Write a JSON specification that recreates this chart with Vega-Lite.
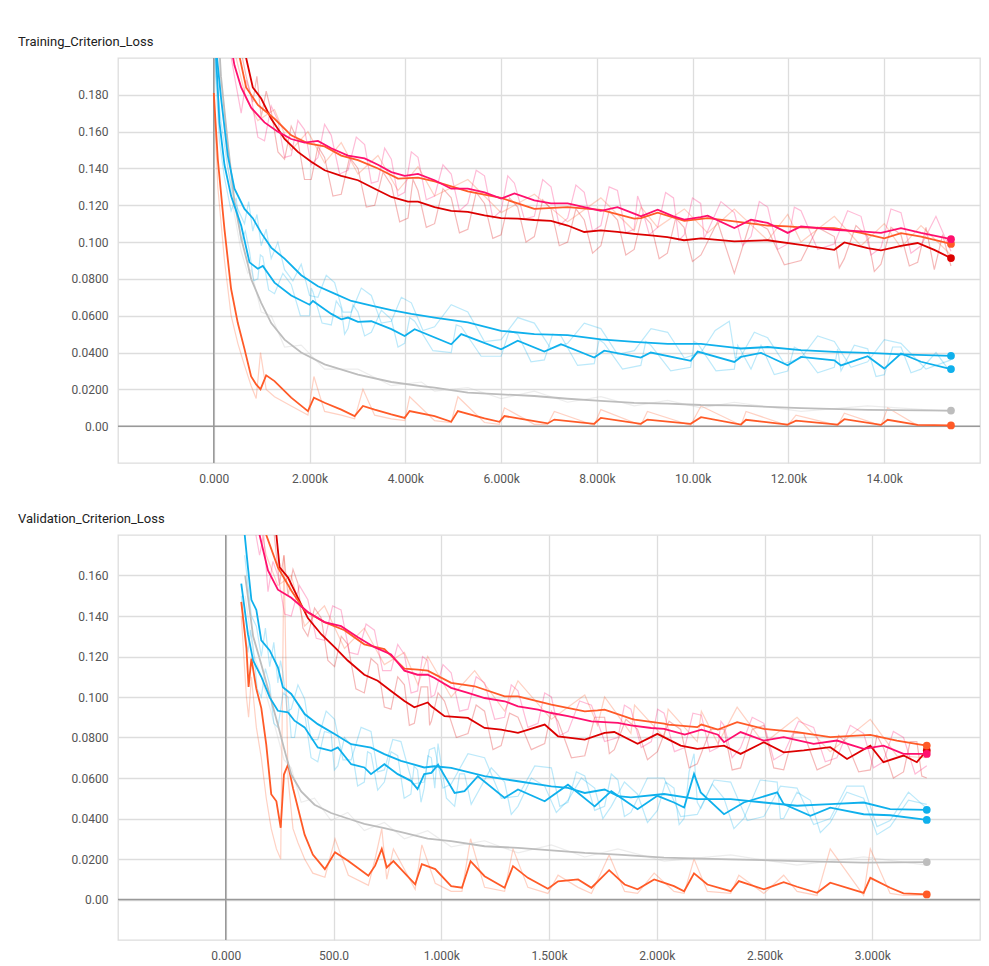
{
"$schema": "https://vega.github.io/schema/vega-lite/v6.json",
"padding": {"left": 17, "top": 35, "right": 5, "bottom": 0},
"config": {
  "view": {"stroke": "#dddddd", "strokeWidth": 1.3},
  "font": "Roboto",
  "axis": {"labelFont": "Roboto", "labelFontSize": 12, "labelColor": "#555555", "grid": true, "gridColor": "#dddddd", "gridWidth": 1.3, "domain": false, "ticks": false, "title": null, "labelPadding": 10, "labelOverlap": false, "labelSeparation": 0},
  "title": {"font": "Roboto", "fontSize": 13, "fontWeight": "normal", "color": "#212121", "anchor": "start", "frame": "group", "dx": -100, "offset": 8}
},
"spacing": 27,
"datasets": {
"train": [
{"s":"g","x":0,"y":0.181,"r":0.18},{"s":"g","x":84,"y":0.145,"r":0.13},{"s":"g","x":223,"y":0.107,"r":0.09},{"s":"g","x":362,"y":0.0745,"r":0.06},{"s":"g","x":502,"y":0.056,"r":0.045},{"s":"g","x":641,"y":0.042,"r":0.033},{"s":"g","x":780,"y":0.027,"r":0.022},{"s":"g","x":885,"y":0.0227,"r":0.015},{"s":"g","x":976,"y":0.02,"r":0.04},{"s":"g","x":1094,"y":0.0276,"r":0.02},{"s":"g","x":1268,"y":0.0245,"r":0.016},{"s":"g","x":1617,"y":0.0155,"r":0.011},{"s":"g","x":1966,"y":0.0082,"r":0.006},{"s":"g","x":2091,"y":0.0155,"r":0.027},{"s":"g","x":2314,"y":0.0127,"r":0.008},{"s":"g","x":2662,"y":0.009,"r":0.006},{"s":"g","x":2941,"y":0.0055,"r":0.004},{"s":"g","x":3115,"y":0.011,"r":0.02},{"s":"g","x":3359,"y":0.009,"r":0.006},{"s":"g","x":3707,"y":0.0064,"r":0.004},{"s":"g","x":3986,"y":0.0045,"r":0.003},{"s":"g","x":4090,"y":0.0082,"r":0.016},{"s":"g","x":4611,"y":0.0055,"r":0.003},{"s":"g","x":4958,"y":0.0024,"r":0.002},{"s":"g","x":5097,"y":0.0082,"r":0.016},{"s":"g","x":5653,"y":0.0042,"r":0.002},{"s":"g","x":5965,"y":0.0024,"r":0.001},{"s":"g","x":6069,"y":0.0055,"r":0.01},{"s":"g","x":6694,"y":0.0027,"r":0.001},{"s":"g","x":6972,"y":0.0015,"r":0.001},{"s":"g","x":7111,"y":0.0036,"r":0.008},{"s":"g","x":7944,"y":0.0013,"r":0.0005},{"s":"g","x":8083,"y":0.0045,"r":0.009},{"s":"g","x":8917,"y":0.0013,"r":0.0005},{"s":"g","x":9055,"y":0.0036,"r":0.008},{"s":"g","x":9958,"y":0.0013,"r":0.0005},{"s":"g","x":10174,"y":0.0049,"r":0.011},{"s":"g","x":11009,"y":0.0009,"r":0.0005},{"s":"g","x":11114,"y":0.0035,"r":0.008},{"s":"g","x":11984,"y":0.0009,"r":0.0004},{"s":"g","x":12158,"y":0.003,"r":0.006},{"s":"g","x":13028,"y":0.0009,"r":0.0004},{"s":"g","x":13167,"y":0.0038,"r":0.007},{"s":"g","x":13932,"y":0.0007,"r":0.0003},{"s":"g","x":14072,"y":0.0035,"r":0.01},{"s":"g","x":14698,"y":0.0007,"r":0.0003},{"s":"g","x":15394,"y":0.0004,"r":0.0003},
{"s":"f","x":0,"y":0.26,"r":0.25},{"s":"f","x":150,"y":0.19,"r":0.18},{"s":"f","x":300,"y":0.152,"r":0.14},{"s":"f","x":432,"y":0.122,"r":0.115},{"s":"f","x":572,"y":0.102,"r":0.095},{"s":"f","x":711,"y":0.088,"r":0.083},{"s":"f","x":780,"y":0.08,"r":0.085},{"s":"f","x":990,"y":0.067,"r":0.062},{"s":"f","x":1199,"y":0.056,"r":0.06},{"s":"f","x":1478,"y":0.047,"r":0.043},{"s":"f","x":1826,"y":0.04,"r":0.044},{"s":"f","x":2314,"y":0.0336,"r":0.031},{"s":"f","x":3011,"y":0.028,"r":0.031},{"s":"f","x":3708,"y":0.024,"r":0.022},{"s":"f","x":4335,"y":0.0218,"r":0.024},{"s":"f","x":4611,"y":0.0209,"r":0.019},{"s":"f","x":5305,"y":0.0182,"r":0.021},{"s":"f","x":6000,"y":0.0173,"r":0.015},{"s":"f","x":6694,"y":0.0164,"r":0.019},{"s":"f","x":7389,"y":0.0149,"r":0.013},{"s":"f","x":8083,"y":0.0138,"r":0.016},{"s":"f","x":8778,"y":0.0127,"r":0.011},{"s":"f","x":9478,"y":0.0122,"r":0.014},{"s":"f","x":10174,"y":0.0115,"r":0.01},{"s":"f","x":10870,"y":0.0113,"r":0.013},{"s":"f","x":12262,"y":0.0098,"r":0.008},{"s":"f","x":13654,"y":0.0089,"r":0.011},{"s":"f","x":15394,"y":0.0085,"r":0.008},
{"s":"e","x":0,"y":0.23,"r":0.22},{"s":"e","x":40,"y":0.205,"r":0.19},{"s":"e","x":118,"y":0.165,"r":0.155},{"s":"e","x":223,"y":0.142,"r":0.135},{"s":"e","x":362,"y":0.125,"r":0.117},{"s":"e","x":572,"y":0.109,"r":0.1},{"s":"e","x":746,"y":0.089,"r":0.095},{"s":"e","x":920,"y":0.0855,"r":0.08},{"s":"e","x":1024,"y":0.087,"r":0.092},{"s":"e","x":1268,"y":0.078,"r":0.072},{"s":"e","x":1617,"y":0.071,"r":0.077},{"s":"e","x":2000,"y":0.066,"r":0.06},{"s":"e","x":2070,"y":0.068,"r":0.073},{"s":"e","x":2454,"y":0.061,"r":0.055},{"s":"e","x":2662,"y":0.058,"r":0.064},{"s":"e","x":2802,"y":0.059,"r":0.053},{"s":"e","x":3011,"y":0.0567,"r":0.062},{"s":"e","x":3290,"y":0.057,"r":0.051},{"s":"e","x":3708,"y":0.0527,"r":0.058},{"s":"e","x":3986,"y":0.049,"r":0.045},{"s":"e","x":4194,"y":0.0527,"r":0.057},{"s":"e","x":4958,"y":0.0445,"r":0.04},{"s":"e","x":5167,"y":0.05,"r":0.054},{"s":"e","x":6000,"y":0.0418,"r":0.038},{"s":"e","x":6347,"y":0.0464,"r":0.05},{"s":"e","x":6903,"y":0.0405,"r":0.036},{"s":"e","x":7250,"y":0.0445,"r":0.049},{"s":"e","x":7944,"y":0.0373,"r":0.034},{"s":"e","x":8153,"y":0.041,"r":0.045},{"s":"e","x":8917,"y":0.0373,"r":0.033},{"s":"e","x":9125,"y":0.04,"r":0.044},{"s":"e","x":9958,"y":0.0355,"r":0.032},{"s":"e","x":10104,"y":0.0405,"r":0.045},{"s":"e","x":10870,"y":0.0349,"r":0.031},{"s":"e","x":11009,"y":0.0376,"r":0.041},{"s":"e","x":11427,"y":0.0398,"r":0.044},{"s":"e","x":11984,"y":0.0331,"r":0.03},{"s":"e","x":12262,"y":0.0376,"r":0.041},{"s":"e","x":12958,"y":0.0358,"r":0.032},{"s":"e","x":13097,"y":0.033,"r":0.03},{"s":"e","x":13654,"y":0.038,"r":0.042},{"s":"e","x":14002,"y":0.0313,"r":0.028},{"s":"e","x":14350,"y":0.0395,"r":0.043},{"s":"e","x":14768,"y":0.035,"r":0.031},{"s":"e","x":15394,"y":0.031,"r":0.029},
{"s":"d","x":0,"y":0.24,"r":0.23},{"s":"d","x":49,"y":0.205,"r":0.19},{"s":"d","x":153,"y":0.178,"r":0.165},{"s":"d","x":293,"y":0.147,"r":0.14},{"s":"d","x":432,"y":0.129,"r":0.122},{"s":"d","x":641,"y":0.118,"r":0.11},{"s":"d","x":815,"y":0.113,"r":0.106},{"s":"d","x":990,"y":0.105,"r":0.098},{"s":"d","x":1199,"y":0.097,"r":0.091},{"s":"d","x":1478,"y":0.091,"r":0.085},{"s":"d","x":1826,"y":0.082,"r":0.088},{"s":"d","x":2175,"y":0.076,"r":0.07},{"s":"d","x":2523,"y":0.072,"r":0.078},{"s":"d","x":2872,"y":0.068,"r":0.062},{"s":"d","x":3290,"y":0.0655,"r":0.071},{"s":"d","x":3708,"y":0.063,"r":0.057},{"s":"d","x":4126,"y":0.061,"r":0.067},{"s":"d","x":4611,"y":0.059,"r":0.054},{"s":"d","x":5305,"y":0.0564,"r":0.062},{"s":"d","x":6000,"y":0.0518,"r":0.047},{"s":"d","x":6694,"y":0.05,"r":0.056},{"s":"d","x":7389,"y":0.0495,"r":0.045},{"s":"d","x":8083,"y":0.0472,"r":0.053},{"s":"d","x":8782,"y":0.0458,"r":0.041},{"s":"d","x":9478,"y":0.0447,"r":0.051},{"s":"d","x":10174,"y":0.0447,"r":0.04},{"s":"d","x":10765,"y":0.043,"r":0.057},{"s":"d","x":11009,"y":0.0422,"r":0.038},{"s":"d","x":11566,"y":0.043,"r":0.048},{"s":"d","x":12262,"y":0.0413,"r":0.037},{"s":"d","x":12958,"y":0.0404,"r":0.046},{"s":"d","x":13654,"y":0.0398,"r":0.035},{"s":"d","x":14350,"y":0.039,"r":0.045},{"s":"d","x":15394,"y":0.0382,"r":0.036},
{"s":"c","x":560,"y":0.215,"r":0.205},{"s":"c","x":676,"y":0.2,"r":0.19},{"s":"c","x":815,"y":0.184,"r":0.176},{"s":"c","x":990,"y":0.178,"r":0.168},{"s":"c","x":1199,"y":0.167,"r":0.171},{"s":"c","x":1478,"y":0.156,"r":0.145},{"s":"c","x":1756,"y":0.149,"r":0.155},{"s":"c","x":2035,"y":0.1436,"r":0.134},{"s":"c","x":2314,"y":0.139,"r":0.146},{"s":"c","x":2662,"y":0.136,"r":0.126},{"s":"c","x":3011,"y":0.1336,"r":0.14},{"s":"c","x":3360,"y":0.129,"r":0.12},{"s":"c","x":3708,"y":0.1245,"r":0.131},{"s":"c","x":4056,"y":0.122,"r":0.113},{"s":"c","x":4264,"y":0.122,"r":0.128},{"s":"c","x":4611,"y":0.119,"r":0.11},{"s":"c","x":4958,"y":0.117,"r":0.124},{"s":"c","x":5305,"y":0.1164,"r":0.107},{"s":"c","x":5653,"y":0.1145,"r":0.121},{"s":"c","x":6000,"y":0.113,"r":0.104},{"s":"c","x":6347,"y":0.1127,"r":0.119},{"s":"c","x":6694,"y":0.112,"r":0.103},{"s":"c","x":7042,"y":0.1115,"r":0.118},{"s":"c","x":7389,"y":0.109,"r":0.1},{"s":"c","x":7736,"y":0.1055,"r":0.112},{"s":"c","x":8083,"y":0.1064,"r":0.098},{"s":"c","x":8430,"y":0.1055,"r":0.112},{"s":"c","x":8778,"y":0.1045,"r":0.096},{"s":"c","x":9125,"y":0.1036,"r":0.11},{"s":"c","x":9472,"y":0.1027,"r":0.094},{"s":"c","x":9819,"y":0.101,"r":0.108},{"s":"c","x":10174,"y":0.102,"r":0.093},{"s":"c","x":10870,"y":0.1004,"r":0.083},{"s":"c","x":11566,"y":0.101,"r":0.107},{"s":"c","x":12262,"y":0.0985,"r":0.09},{"s":"c","x":12958,"y":0.0958,"r":0.103},{"s":"c","x":13167,"y":0.0998,"r":0.091},{"s":"c","x":13654,"y":0.0967,"r":0.103},{"s":"c","x":13932,"y":0.0955,"r":0.088},{"s":"c","x":14350,"y":0.098,"r":0.104},{"s":"c","x":14698,"y":0.0995,"r":0.089},{"s":"c","x":15046,"y":0.0958,"r":0.085},{"s":"c","x":15394,"y":0.0913,"r":0.087},
{"s":"b","x":420,"y":0.215,"r":0.205},{"s":"b","x":676,"y":0.184,"r":0.178},{"s":"b","x":920,"y":0.1745,"r":0.166},{"s":"b","x":1268,"y":0.167,"r":0.172},{"s":"b","x":1617,"y":0.158,"r":0.15},{"s":"b","x":1966,"y":0.1536,"r":0.16},{"s":"b","x":2314,"y":0.152,"r":0.143},{"s":"b","x":2662,"y":0.147,"r":0.154},{"s":"b","x":3011,"y":0.1445,"r":0.137},{"s":"b","x":3429,"y":0.14,"r":0.147},{"s":"b","x":3847,"y":0.1345,"r":0.128},{"s":"b","x":4265,"y":0.135,"r":0.141},{"s":"b","x":4611,"y":0.133,"r":0.125},{"s":"b","x":5305,"y":0.1275,"r":0.134},{"s":"b","x":6000,"y":0.124,"r":0.116},{"s":"b","x":6694,"y":0.118,"r":0.126},{"s":"b","x":7389,"y":0.119,"r":0.111},{"s":"b","x":8083,"y":0.1175,"r":0.124},{"s":"b","x":8778,"y":0.1127,"r":0.106},{"s":"b","x":8921,"y":0.113,"r":0.119},{"s":"b","x":9269,"y":0.116,"r":0.108},{"s":"b","x":9826,"y":0.1115,"r":0.118},{"s":"b","x":10313,"y":0.113,"r":0.105},{"s":"b","x":10870,"y":0.1113,"r":0.118},{"s":"b","x":11566,"y":0.109,"r":0.101},{"s":"b","x":11984,"y":0.1085,"r":0.115},{"s":"b","x":12262,"y":0.108,"r":0.1},{"s":"b","x":12958,"y":0.1076,"r":0.114},{"s":"b","x":13515,"y":0.105,"r":0.098},{"s":"b","x":14002,"y":0.102,"r":0.11},{"s":"b","x":14350,"y":0.1049,"r":0.097},{"s":"b","x":14768,"y":0.103,"r":0.109},{"s":"b","x":15394,"y":0.099,"r":0.093},
{"s":"a","x":300,"y":0.215,"r":0.21},{"s":"a","x":432,"y":0.196,"r":0.19},{"s":"a","x":572,"y":0.184,"r":0.17},{"s":"a","x":780,"y":0.173,"r":0.179},{"s":"a","x":1059,"y":0.165,"r":0.155},{"s":"a","x":1338,"y":0.16,"r":0.166},{"s":"a","x":1617,"y":0.156,"r":0.147},{"s":"a","x":1896,"y":0.154,"r":0.161},{"s":"a","x":2175,"y":0.155,"r":0.146},{"s":"a","x":2453,"y":0.151,"r":0.158},{"s":"a","x":2802,"y":0.147,"r":0.139},{"s":"a","x":3150,"y":0.1455,"r":0.153},{"s":"a","x":3429,"y":0.142,"r":0.133},{"s":"a","x":3708,"y":0.138,"r":0.145},{"s":"a","x":3986,"y":0.136,"r":0.127},{"s":"a","x":4264,"y":0.137,"r":0.146},{"s":"a","x":4611,"y":0.1336,"r":0.125},{"s":"a","x":4958,"y":0.129,"r":0.137},{"s":"a","x":5305,"y":0.129,"r":0.121},{"s":"a","x":5653,"y":0.127,"r":0.136},{"s":"a","x":6000,"y":0.1236,"r":0.117},{"s":"a","x":6278,"y":0.1264,"r":0.132},{"s":"a","x":6694,"y":0.1227,"r":0.114},{"s":"a","x":7042,"y":0.121,"r":0.13},{"s":"a","x":7389,"y":0.121,"r":0.113},{"s":"a","x":7736,"y":0.119,"r":0.127},{"s":"a","x":8083,"y":0.117,"r":0.109},{"s":"a","x":8430,"y":0.119,"r":0.128},{"s":"a","x":8778,"y":0.1155,"r":0.107},{"s":"a","x":8921,"y":0.114,"r":0.12},{"s":"a","x":9269,"y":0.1176,"r":0.108},{"s":"a","x":9600,"y":0.114,"r":0.124},{"s":"a","x":9826,"y":0.1122,"r":0.104},{"s":"a","x":10167,"y":0.1136,"r":0.121},{"s":"a","x":10313,"y":0.1144,"r":0.106},{"s":"a","x":10870,"y":0.1076,"r":0.116},{"s":"a","x":11218,"y":0.1122,"r":0.103},{"s":"a","x":11566,"y":0.1104,"r":0.119},{"s":"a","x":11984,"y":0.105,"r":0.099},{"s":"a","x":12262,"y":0.1085,"r":0.117},{"s":"a","x":12958,"y":0.1067,"r":0.099},{"s":"a","x":13515,"y":0.1058,"r":0.114},{"s":"a","x":13932,"y":0.105,"r":0.097},{"s":"a","x":14350,"y":0.1076,"r":0.116},{"s":"a","x":14768,"y":0.105,"r":0.098},{"s":"a","x":15394,"y":0.1016,"r":0.095},
{"s":"a","x":676,"r":0.188},{"s":"a","x":920,"r":0.157},{"s":"a","x":1200,"r":0.174},{"s":"a","x":1478,"r":0.146},{"s":"a","x":1756,"r":0.166},{"s":"a","x":2035,"r":0.142},{"s":"a","x":2314,"r":0.164},{"s":"a","x":2628,"r":0.137},{"s":"a","x":2976,"r":0.157},{"s":"a","x":3290,"r":0.132},{"s":"a","x":3568,"r":0.151},{"s":"a","x":3847,"r":0.125},{"s":"a","x":4125,"r":0.149},{"s":"a","x":4438,"r":0.123},{"s":"a","x":4785,"r":0.142},{"s":"a","x":5130,"r":0.117},{"s":"a","x":5480,"r":0.139},{"s":"a","x":5826,"r":0.113},{"s":"a","x":6139,"r":0.136},{"s":"a","x":6486,"r":0.1125},{"s":"a","x":6868,"r":0.134},{"s":"a","x":7215,"r":0.109},{"s":"a","x":7562,"r":0.131},{"s":"a","x":7910,"r":0.106},{"s":"a","x":8256,"r":0.13},{"s":"a","x":8604,"r":0.105},{"s":"a","x":8850,"r":0.125},{"s":"a","x":9095,"r":0.104},{"s":"a","x":9435,"r":0.127},{"s":"a","x":9713,"r":0.101},{"s":"a","x":9996,"r":0.124},{"s":"a","x":10240,"r":0.102},{"s":"a","x":10590,"r":0.122},{"s":"a","x":11044,"r":0.098},{"s":"a","x":11392,"r":0.122},{"s":"a","x":11775,"r":0.096},{"s":"a","x":12123,"r":0.119},{"s":"a","x":12610,"r":0.096},{"s":"a","x":13236,"r":0.117},{"s":"a","x":13723,"r":0.093},{"s":"a","x":14141,"r":0.118},{"s":"a","x":14559,"r":0.094},{"s":"a","x":15080,"r":0.114},
{"s":"c","x":900,"r":0.19},{"s":"c","x":1095,"r":0.182},{"s":"c","x":1340,"r":0.149},{"s":"c","x":1617,"r":0.163},{"s":"c","x":1895,"r":0.134},{"s":"c","x":2175,"r":0.152},{"s":"c","x":2488,"r":0.125},{"s":"c","x":2836,"r":0.146},{"s":"c","x":3185,"r":0.119},{"s":"c","x":3534,"r":0.138},{"s":"c","x":3882,"r":0.111},{"s":"c","x":4160,"r":0.134},{"s":"c","x":4438,"r":0.108},{"s":"c","x":4785,"r":0.129},{"s":"c","x":5130,"r":0.105},{"s":"c","x":5480,"r":0.127},{"s":"c","x":5826,"r":0.102},{"s":"c","x":6174,"r":0.124},{"s":"c","x":6520,"r":0.1},{"s":"c","x":6868,"r":0.123},{"s":"c","x":7215,"r":0.098},{"s":"c","x":7562,"r":0.118},{"s":"c","x":7910,"r":0.094},{"s":"c","x":8256,"r":0.117},{"s":"c","x":8604,"r":0.093},{"s":"c","x":8950,"r":0.115},{"s":"c","x":9300,"r":0.091},{"s":"c","x":9645,"r":0.113},{"s":"c","x":9996,"r":0.0895},{"s":"c","x":10520,"r":0.111},{"s":"c","x":11218,"r":0.112},{"s":"c","x":11914,"r":0.0877},{"s":"c","x":12610,"r":0.108},{"s":"c","x":13062,"r":0.086},{"s":"c","x":13410,"r":0.109},{"s":"c","x":13793,"r":0.084},{"s":"c","x":14141,"r":0.108},{"s":"c","x":14524,"r":0.087},{"s":"c","x":14872,"r":0.108},{"s":"c","x":15220,"r":0.104},
{"s":"d","x":728,"r":0.122},{"s":"d","x":902,"r":0.115},{"s":"d","x":1094,"r":0.107},{"s":"d","x":1338,"r":0.1},{"s":"d","x":1652,"r":0.079},{"s":"d","x":2000,"r":0.071},{"s":"d","x":2349,"r":0.082},{"s":"d","x":2697,"r":0.062},{"s":"d","x":3081,"r":0.075},{"s":"d","x":3499,"r":0.056},{"s":"d","x":3917,"r":0.07},{"s":"d","x":4368,"r":0.052},{"s":"d","x":4958,"r":0.066},{"s":"d","x":5652,"r":0.046},{"s":"d","x":6347,"r":0.059},{"s":"d","x":7041,"r":0.042},{"s":"d","x":7736,"r":0.056},{"s":"d","x":8432,"r":0.039},{"s":"d","x":9130,"r":0.053},{"s":"d","x":9826,"r":0.037},{"s":"d","x":10470,"r":0.052},{"s":"d","x":10887,"r":0.037},{"s":"d","x":11288,"r":0.051},{"s":"d","x":11914,"r":0.034},{"s":"d","x":12610,"r":0.049},{"s":"d","x":13306,"r":0.032},{"s":"d","x":14002,"r":0.047},{"s":"d","x":14872,"r":0.031},
{"s":"e","x":467,"r":0.124},{"s":"e","x":659,"r":0.106},{"s":"e","x":833,"r":0.079},{"s":"e","x":972,"r":0.093},{"s":"e","x":1146,"r":0.074},{"s":"e","x":1442,"r":0.083},{"s":"e","x":1808,"r":0.06},{"s":"e","x":2035,"r":0.075},{"s":"e","x":2262,"r":0.056},{"s":"e","x":2558,"r":0.068},{"s":"e","x":2732,"r":0.05},{"s":"e","x":2906,"r":0.066},{"s":"e","x":3150,"r":0.049},{"s":"e","x":3499,"r":0.063},{"s":"e","x":3847,"r":0.043},{"s":"e","x":4090,"r":0.059},{"s":"e","x":4576,"r":0.041},{"s":"e","x":5062,"r":0.055},{"s":"e","x":5583,"r":0.038},{"s":"e","x":6173,"r":0.052},{"s":"e","x":6625,"r":0.035},{"s":"e","x":7076,"r":0.05},{"s":"e","x":7597,"r":0.033},{"s":"e","x":8048,"r":0.047},{"s":"e","x":8535,"r":0.031},{"s":"e","x":9021,"r":0.046},{"s":"e","x":9541,"r":0.03},{"s":"e","x":10031,"r":0.046},{"s":"e","x":10487,"r":0.03},{"s":"e","x":10940,"r":0.044},{"s":"e","x":11218,"r":0.031},{"s":"e","x":11705,"r":0.028},{"s":"e","x":12123,"r":0.043},{"s":"e","x":12610,"r":0.029},{"s":"e","x":13027,"r":0.042},{"s":"e","x":13375,"r":0.044},{"s":"e","x":13828,"r":0.027},{"s":"e","x":14176,"r":0.043},{"s":"e","x":14559,"r":0.029},{"s":"e","x":15081,"r":0.04}
],
"valid": [
{"s":"g","x":72,"y":0.147,"r":0.14},{"s":"g","x":96,"y":0.124,"r":0.1},{"s":"g","x":106,"y":0.105,"r":0.09},{"s":"g","x":119,"y":0.119,"r":0.11},{"s":"g","x":142,"y":0.104,"r":0.085},{"s":"g","x":165,"y":0.0945,"r":0.07},{"s":"g","x":188,"y":0.0765,"r":0.05},{"s":"g","x":211,"y":0.052,"r":0.035},{"s":"g","x":235,"y":0.0485,"r":0.025},{"s":"g","x":255,"y":0.0354,"r":0.02},{"s":"g","x":270,"y":0.0617,"r":0.17},{"s":"g","x":289,"y":0.0666,"r":0.06},{"s":"g","x":312,"y":0.055,"r":0.035},{"s":"g","x":335,"y":0.0452,"r":0.028},{"s":"g","x":366,"y":0.032,"r":0.02},{"s":"g","x":404,"y":0.0222,"r":0.013},{"s":"g","x":460,"y":0.015,"r":0.011},{"s":"g","x":507,"y":0.0233,"r":0.03},{"s":"g","x":569,"y":0.019,"r":0.012},{"s":"g","x":662,"y":0.0117,"r":0.007},{"s":"g","x":693,"y":0.0167,"r":0.02},{"s":"g","x":724,"y":0.025,"r":0.035},{"s":"g","x":747,"y":0.0158,"r":0.01},{"s":"g","x":778,"y":0.019,"r":0.025},{"s":"g","x":879,"y":0.0075,"r":0.005},{"s":"g","x":910,"y":0.0175,"r":0.027},{"s":"g","x":972,"y":0.015,"r":0.008},{"s":"g","x":1046,"y":0.0066,"r":0.004},{"s":"g","x":1096,"y":0.0058,"r":0.004},{"s":"g","x":1136,"y":0.0189,"r":0.03},{"s":"g","x":1201,"y":0.0115,"r":0.006},{"s":"g","x":1294,"y":0.0058,"r":0.004},{"s":"g","x":1333,"y":0.0165,"r":0.025},{"s":"g","x":1402,"y":0.0107,"r":0.006},{"s":"g","x":1495,"y":0.0053,"r":0.003},{"s":"g","x":1542,"y":0.009,"r":0.012},{"s":"g","x":1635,"y":0.0099,"r":0.006},{"s":"g","x":1697,"y":0.0058,"r":0.003},{"s":"g","x":1779,"y":0.0145,"r":0.022},{"s":"g","x":1851,"y":0.0074,"r":0.004},{"s":"g","x":1911,"y":0.005,"r":0.003},{"s":"g","x":1988,"y":0.0099,"r":0.013},{"s":"g","x":2080,"y":0.0066,"r":0.004},{"s":"g","x":2127,"y":0.0041,"r":0.003},{"s":"g","x":2173,"y":0.0129,"r":0.02},{"s":"g","x":2235,"y":0.0074,"r":0.004},{"s":"g","x":2343,"y":0.0041,"r":0.003},{"s":"g","x":2381,"y":0.0091,"r":0.012},{"s":"g","x":2497,"y":0.005,"r":0.003},{"s":"g","x":2589,"y":0.0086,"r":0.012},{"s":"g","x":2651,"y":0.0063,"r":0.004},{"s":"g","x":2744,"y":0.0033,"r":0.002},{"s":"g","x":2805,"y":0.0083,"r":0.025},{"s":"g","x":2960,"y":0.0033,"r":0.002},{"s":"g","x":2991,"y":0.0107,"r":0.025},{"s":"g","x":3083,"y":0.0058,"r":0.003},{"s":"g","x":3145,"y":0.003,"r":0.002},{"s":"g","x":3253,"y":0.0025,"r":0.002},
{"s":"f","x":90,"y":0.16,"r":0.15},{"s":"f","x":127,"y":0.13,"r":0.122},{"s":"f","x":165,"y":0.116,"r":0.11},{"s":"f","x":204,"y":0.101,"r":0.095},{"s":"f","x":242,"y":0.0863,"r":0.08},{"s":"f","x":270,"y":0.0748,"r":0.069},{"s":"f","x":304,"y":0.0617,"r":0.065},{"s":"f","x":350,"y":0.0534,"r":0.048},{"s":"f","x":412,"y":0.0468,"r":0.05},{"s":"f","x":489,"y":0.0427,"r":0.039},{"s":"f","x":566,"y":0.04,"r":0.043},{"s":"f","x":643,"y":0.0373,"r":0.034},{"s":"f","x":736,"y":0.0353,"r":0.038},{"s":"f","x":829,"y":0.0329,"r":0.03},{"s":"f","x":937,"y":0.0301,"r":0.034},{"s":"f","x":1046,"y":0.0288,"r":0.026},{"s":"f","x":1201,"y":0.0263,"r":0.029},{"s":"f","x":1356,"y":0.0255,"r":0.023},{"s":"f","x":1511,"y":0.0243,"r":0.027},{"s":"f","x":1666,"y":0.023,"r":0.021},{"s":"f","x":1820,"y":0.0222,"r":0.025},{"s":"f","x":2034,"y":0.0207,"r":0.019},{"s":"f","x":2343,"y":0.0198,"r":0.022},{"s":"f","x":2651,"y":0.019,"r":0.017},{"s":"f","x":2960,"y":0.0182,"r":0.021},{"s":"f","x":3253,"y":0.0185,"r":0.017},
{"s":"e","x":72,"y":0.156,"r":0.15},{"s":"e","x":103,"y":0.131,"r":0.122},{"s":"e","x":127,"y":0.118,"r":0.125},{"s":"e","x":165,"y":0.11,"r":0.1},{"s":"e","x":204,"y":0.0998,"r":0.106},{"s":"e","x":242,"y":0.0932,"r":0.085},{"s":"e","x":289,"y":0.0924,"r":0.1},{"s":"e","x":319,"y":0.0883,"r":0.08},{"s":"e","x":366,"y":0.085,"r":0.092},{"s":"e","x":427,"y":0.0751,"r":0.068},{"s":"e","x":489,"y":0.0734,"r":0.082},{"s":"e","x":520,"y":0.0751,"r":0.066},{"s":"e","x":582,"y":0.0668,"r":0.076},{"s":"e","x":643,"y":0.0652,"r":0.058},{"s":"e","x":674,"y":0.0619,"r":0.072},{"s":"e","x":736,"y":0.0668,"r":0.058},{"s":"e","x":798,"y":0.0619,"r":0.071},{"s":"e","x":859,"y":0.0586,"r":0.052},{"s":"e","x":890,"y":0.0545,"r":0.064},{"s":"e","x":921,"y":0.0619,"r":0.055},{"s":"e","x":954,"y":0.0625,"r":0.07},{"s":"e","x":985,"y":0.0666,"r":0.077},{"s":"e","x":1062,"y":0.0526,"r":0.046},{"s":"e","x":1108,"y":0.0535,"r":0.062},{"s":"e","x":1170,"y":0.0609,"r":0.053},{"s":"e","x":1294,"y":0.0502,"r":0.058},{"s":"e","x":1356,"y":0.0543,"r":0.046},{"s":"e","x":1480,"y":0.0485,"r":0.056},{"s":"e","x":1588,"y":0.0567,"r":0.049},{"s":"e","x":1712,"y":0.046,"r":0.055},{"s":"e","x":1789,"y":0.0535,"r":0.046},{"s":"e","x":1911,"y":0.0446,"r":0.052},{"s":"e","x":2003,"y":0.0512,"r":0.044},{"s":"e","x":2080,"y":0.0479,"r":0.055},{"s":"e","x":2127,"y":0.0454,"r":0.04},{"s":"e","x":2173,"y":0.062,"r":0.072},{"s":"e","x":2204,"y":0.0529,"r":0.045},{"s":"e","x":2312,"y":0.0421,"r":0.05},{"s":"e","x":2404,"y":0.0479,"r":0.04},{"s":"e","x":2559,"y":0.0529,"r":0.058},{"s":"e","x":2589,"y":0.0471,"r":0.04},{"s":"e","x":2713,"y":0.0413,"r":0.049},{"s":"e","x":2805,"y":0.0454,"r":0.038},{"s":"e","x":2960,"y":0.0421,"r":0.05},{"s":"e","x":3083,"y":0.0416,"r":0.036},{"s":"e","x":3253,"y":0.0393,"r":0.047},
{"s":"d","x":88,"y":0.18,"r":0.17},{"s":"d","x":103,"y":0.164,"r":0.155},{"s":"d","x":119,"y":0.148,"r":0.14},{"s":"d","x":142,"y":0.143,"r":0.135},{"s":"d","x":165,"y":0.128,"r":0.12},{"s":"d","x":204,"y":0.123,"r":0.115},{"s":"d","x":242,"y":0.1147,"r":0.107},{"s":"d","x":265,"y":0.1048,"r":0.112},{"s":"d","x":304,"y":0.1015,"r":0.094},{"s":"d","x":366,"y":0.0916,"r":0.099},{"s":"d","x":427,"y":0.0866,"r":0.079},{"s":"d","x":505,"y":0.0817,"r":0.089},{"s":"d","x":582,"y":0.0767,"r":0.069},{"s":"d","x":674,"y":0.075,"r":0.083},{"s":"d","x":736,"y":0.0718,"r":0.064},{"s":"d","x":813,"y":0.0685,"r":0.078},{"s":"d","x":921,"y":0.0652,"r":0.058},{"s":"d","x":969,"y":0.0658,"r":0.075},{"s":"d","x":1046,"y":0.065,"r":0.057},{"s":"d","x":1201,"y":0.0609,"r":0.07},{"s":"d","x":1356,"y":0.0584,"r":0.051},{"s":"d","x":1511,"y":0.0559,"r":0.065},{"s":"d","x":1588,"y":0.0551,"r":0.048},{"s":"d","x":1666,"y":0.0526,"r":0.061},{"s":"d","x":1758,"y":0.0543,"r":0.046},{"s":"d","x":1820,"y":0.051,"r":0.059},{"s":"d","x":1880,"y":0.0504,"r":0.043},{"s":"d","x":2034,"y":0.0521,"r":0.06},{"s":"d","x":2188,"y":0.0496,"r":0.042},{"s":"d","x":2343,"y":0.0496,"r":0.058},{"s":"d","x":2497,"y":0.0479,"r":0.041},{"s":"d","x":2651,"y":0.0463,"r":0.055},{"s":"d","x":2805,"y":0.0471,"r":0.04},{"s":"d","x":2960,"y":0.0479,"r":0.056},{"s":"d","x":3083,"y":0.0446,"r":0.039},{"s":"d","x":3253,"y":0.0443,"r":0.045},
{"s":"c","x":225,"y":0.19,"r":0.18},{"s":"c","x":235,"y":0.18,"r":0.17},{"s":"c","x":250,"y":0.164,"r":0.156},{"s":"c","x":289,"y":0.159,"r":0.15},{"s":"c","x":335,"y":0.149,"r":0.156},{"s":"c","x":381,"y":0.139,"r":0.13},{"s":"c","x":443,"y":0.131,"r":0.139},{"s":"c","x":505,"y":0.1246,"r":0.115},{"s":"c","x":566,"y":0.118,"r":0.126},{"s":"c","x":643,"y":0.111,"r":0.102},{"s":"c","x":705,"y":0.108,"r":0.116},{"s":"c","x":767,"y":0.103,"r":0.094},{"s":"c","x":829,"y":0.098,"r":0.106},{"s":"c","x":875,"y":0.0949,"r":0.087},{"s":"c","x":937,"y":0.0973,"r":0.105},{"s":"c","x":954,"y":0.0954,"r":0.088},{"s":"c","x":1015,"y":0.0905,"r":0.098},{"s":"c","x":1124,"y":0.0897,"r":0.082},{"s":"c","x":1201,"y":0.0847,"r":0.093},{"s":"c","x":1278,"y":0.0839,"r":0.076},{"s":"c","x":1356,"y":0.0823,"r":0.09},{"s":"c","x":1480,"y":0.0864,"r":0.077},{"s":"c","x":1542,"y":0.0806,"r":0.088},{"s":"c","x":1666,"y":0.079,"r":0.071},{"s":"c","x":1758,"y":0.0823,"r":0.09},{"s":"c","x":1803,"y":0.0827,"r":0.074},{"s":"c","x":1911,"y":0.0769,"r":0.084},{"s":"c","x":2003,"y":0.0818,"r":0.073},{"s":"c","x":2111,"y":0.076,"r":0.084},{"s":"c","x":2188,"y":0.0744,"r":0.067},{"s":"c","x":2312,"y":0.076,"r":0.084},{"s":"c","x":2389,"y":0.0719,"r":0.065},{"s":"c","x":2497,"y":0.0777,"r":0.086},{"s":"c","x":2589,"y":0.0727,"r":0.064},{"s":"c","x":2682,"y":0.0736,"r":0.082},{"s":"c","x":2805,"y":0.0752,"r":0.067},{"s":"c","x":2883,"y":0.0694,"r":0.077},{"s":"c","x":2991,"y":0.076,"r":0.064},{"s":"c","x":3052,"y":0.0678,"r":0.075},{"s":"c","x":3145,"y":0.0711,"r":0.063},{"s":"c","x":3207,"y":0.0678,"r":0.078},{"s":"c","x":3253,"y":0.0736,"r":0.06},
{"s":"b","x":170,"y":0.19,"r":0.18},{"s":"b","x":188,"y":0.18,"r":0.17},{"s":"b","x":242,"y":0.164,"r":0.155},{"s":"b","x":304,"y":0.1526,"r":0.16},{"s":"b","x":366,"y":0.1427,"r":0.135},{"s":"b","x":458,"y":0.137,"r":0.145},{"s":"b","x":551,"y":0.133,"r":0.124},{"s":"b","x":643,"y":0.126,"r":0.134},{"s":"b","x":736,"y":0.1237,"r":0.116},{"s":"b","x":829,"y":0.114,"r":0.122},{"s":"b","x":892,"y":0.1135,"r":0.106},{"s":"b","x":937,"y":0.113,"r":0.12},{"s":"b","x":1046,"y":0.107,"r":0.1},{"s":"b","x":1155,"y":0.1053,"r":0.113},{"s":"b","x":1294,"y":0.1003,"r":0.093},{"s":"b","x":1356,"y":0.1003,"r":0.108},{"s":"b","x":1511,"y":0.0962,"r":0.089},{"s":"b","x":1666,"y":0.0929,"r":0.101},{"s":"b","x":1725,"y":0.0934,"r":0.086},{"s":"b","x":1758,"y":0.0938,"r":0.1},{"s":"b","x":1880,"y":0.0893,"r":0.082},{"s":"b","x":1897,"y":0.0888,"r":0.096},{"s":"b","x":2034,"y":0.0868,"r":0.08},{"s":"b","x":2053,"y":0.0864,"r":0.094},{"s":"b","x":2188,"y":0.0851,"r":0.078},{"s":"b","x":2207,"y":0.0864,"r":0.093},{"s":"b","x":2284,"y":0.0839,"r":0.077},{"s":"b","x":2373,"y":0.0876,"r":0.095},{"s":"b","x":2497,"y":0.0843,"r":0.077},{"s":"b","x":2651,"y":0.0827,"r":0.09},{"s":"b","x":2805,"y":0.0802,"r":0.073},{"s":"b","x":2991,"y":0.0813,"r":0.089},{"s":"b","x":3114,"y":0.0785,"r":0.071},{"s":"b","x":3253,"y":0.076,"r":0.07},
{"s":"a","x":140,"y":0.19,"r":0.18},{"s":"a","x":157,"y":0.18,"r":0.17},{"s":"a","x":196,"y":0.1625,"r":0.152},{"s":"a","x":242,"y":0.153,"r":0.16},{"s":"a","x":304,"y":0.149,"r":0.14},{"s":"a","x":381,"y":0.142,"r":0.148},{"s":"a","x":458,"y":0.137,"r":0.128},{"s":"a","x":535,"y":0.135,"r":0.143},{"s":"a","x":613,"y":0.1295,"r":0.121},{"s":"a","x":690,"y":0.1246,"r":0.133},{"s":"a","x":767,"y":0.121,"r":0.113},{"s":"a","x":829,"y":0.113,"r":0.121},{"s":"a","x":890,"y":0.111,"r":0.103},{"s":"a","x":937,"y":0.111,"r":0.118},{"s":"a","x":969,"y":0.1094,"r":0.101},{"s":"a","x":1046,"y":0.1045,"r":0.112},{"s":"a","x":1124,"y":0.102,"r":0.094},{"s":"a","x":1201,"y":0.0995,"r":0.107},{"s":"a","x":1294,"y":0.0979,"r":0.09},{"s":"a","x":1356,"y":0.0954,"r":0.103},{"s":"a","x":1449,"y":0.0938,"r":0.087},{"s":"a","x":1511,"y":0.0921,"r":0.1},{"s":"a","x":1588,"y":0.0905,"r":0.083},{"s":"a","x":1697,"y":0.088,"r":0.096},{"s":"a","x":1820,"y":0.0872,"r":0.08},{"s":"a","x":1880,"y":0.086,"r":0.094},{"s":"a","x":1975,"y":0.0847,"r":0.078},{"s":"a","x":2034,"y":0.0843,"r":0.092},{"s":"a","x":2130,"y":0.0814,"r":0.075},{"s":"a","x":2207,"y":0.0839,"r":0.091},{"s":"a","x":2284,"y":0.0814,"r":0.075},{"s":"a","x":2312,"y":0.0777,"r":0.086},{"s":"a","x":2389,"y":0.0827,"r":0.075},{"s":"a","x":2497,"y":0.0785,"r":0.087},{"s":"a","x":2589,"y":0.0802,"r":0.072},{"s":"a","x":2728,"y":0.0769,"r":0.085},{"s":"a","x":2836,"y":0.0785,"r":0.07},{"s":"a","x":2960,"y":0.0744,"r":0.082},{"s":"a","x":3052,"y":0.076,"r":0.068},{"s":"a","x":3145,"y":0.0719,"r":0.08},{"s":"a","x":3253,"y":0.0719,"r":0.066},
{"s":"a","x":176,"r":0.18},{"s":"a","x":219,"r":0.167},{"s":"a","x":273,"r":0.141},{"s":"a","x":342,"r":0.155},{"s":"a","x":420,"r":0.129},{"s":"a","x":496,"r":0.145},{"s":"a","x":574,"r":0.122},{"s":"a","x":651,"r":0.136},{"s":"a","x":728,"r":0.113},{"s":"a","x":798,"r":0.126},{"s":"a","x":860,"r":0.102},{"s":"a","x":913,"r":0.12},{"s":"a","x":953,"r":0.1},{"s":"a","x":1008,"r":0.116},{"s":"a","x":1085,"r":0.093},{"s":"a","x":1162,"r":0.11},{"s":"a","x":1248,"r":0.089},{"s":"a","x":1325,"r":0.106},{"s":"a","x":1402,"r":0.085},{"s":"a","x":1480,"r":0.102},{"s":"a","x":1550,"r":0.081},{"s":"a","x":1642,"r":0.098},{"s":"a","x":1758,"r":0.078},{"s":"a","x":1850,"r":0.096},{"s":"a","x":1928,"r":0.075},{"s":"a","x":2004,"r":0.094},{"s":"a","x":2082,"r":0.073},{"s":"a","x":2168,"r":0.092},{"s":"a","x":2246,"r":0.073},{"s":"a","x":2298,"r":0.088},{"s":"a","x":2350,"r":0.07},{"s":"a","x":2443,"r":0.09},{"s":"a","x":2543,"r":0.069},{"s":"a","x":2658,"r":0.088},{"s":"a","x":2782,"r":0.068},{"s":"a","x":2898,"r":0.086},{"s":"a","x":3006,"r":0.065},{"s":"a","x":3098,"r":0.083},{"s":"a","x":3199,"r":0.062},
{"s":"c","x":270,"r":0.17},{"s":"c","x":312,"r":0.163},{"s":"c","x":358,"r":0.134},{"s":"c","x":412,"r":0.144},{"s":"c","x":474,"r":0.118},{"s":"c","x":536,"r":0.13},{"s":"c","x":604,"r":0.104},{"s":"c","x":674,"r":0.119},{"s":"c","x":736,"r":0.095},{"s":"c","x":798,"r":0.11},{"s":"c","x":852,"r":0.086},{"s":"c","x":906,"r":0.105},{"s":"c","x":946,"r":0.086},{"s":"c","x":985,"r":0.102},{"s":"c","x":1070,"r":0.08},{"s":"c","x":1162,"r":0.096},{"s":"c","x":1240,"r":0.074},{"s":"c","x":1317,"r":0.092},{"s":"c","x":1418,"r":0.074},{"s":"c","x":1511,"r":0.093},{"s":"c","x":1604,"r":0.07},{"s":"c","x":1712,"r":0.09},{"s":"c","x":1780,"r":0.072},{"s":"c","x":1857,"r":0.089},{"s":"c","x":1957,"r":0.069},{"s":"c","x":2057,"r":0.088},{"s":"c","x":2150,"r":0.065},{"s":"c","x":2250,"r":0.084},{"s":"c","x":2350,"r":0.064},{"s":"c","x":2443,"r":0.084},{"s":"c","x":2543,"r":0.065},{"s":"c","x":2636,"r":0.082},{"s":"c","x":2744,"r":0.064},{"s":"c","x":2844,"r":0.081},{"s":"c","x":2937,"r":0.063},{"s":"c","x":3022,"r":0.081},{"s":"c","x":3098,"r":0.06},{"s":"c","x":3176,"r":0.078},{"s":"c","x":3230,"r":0.061},
{"s":"d","x":184,"r":0.134},{"s":"d","x":223,"r":0.127},{"s":"d","x":254,"r":0.118},{"s":"d","x":285,"r":0.093},{"s":"d","x":335,"r":0.106},{"s":"d","x":396,"r":0.079},{"s":"d","x":466,"r":0.093},{"s":"d","x":544,"r":0.069},{"s":"d","x":628,"r":0.085},{"s":"d","x":705,"r":0.063},{"s":"d","x":775,"r":0.079},{"s":"d","x":867,"r":0.057},{"s":"d","x":945,"r":0.074},{"s":"d","x":1008,"r":0.055},{"s":"d","x":1124,"r":0.072},{"s":"d","x":1279,"r":0.05},{"s":"d","x":1434,"r":0.066},{"s":"d","x":1550,"r":0.046},{"s":"d","x":1627,"r":0.063},{"s":"d","x":1712,"r":0.044},{"s":"d","x":1789,"r":0.062},{"s":"d","x":1850,"r":0.041},{"s":"d","x":1957,"r":0.06},{"s":"d","x":2111,"r":0.041},{"s":"d","x":2266,"r":0.059},{"s":"d","x":2420,"r":0.039},{"s":"d","x":2574,"r":0.056},{"s":"d","x":2728,"r":0.037},{"s":"d","x":2882,"r":0.056},{"s":"d","x":3022,"r":0.036},{"s":"d","x":3168,"r":0.053},
{"s":"e","x":88,"r":0.133},{"s":"e","x":115,"r":0.133},{"s":"e","x":146,"r":0.104},{"s":"e","x":184,"r":0.114},{"s":"e","x":223,"r":0.087},{"s":"e","x":266,"r":0.102},{"s":"e","x":304,"r":0.08},{"s":"e","x":342,"r":0.096},{"s":"e","x":396,"r":0.07},{"s":"e","x":458,"r":0.083},{"s":"e","x":504,"r":0.064},{"s":"e","x":551,"r":0.08},{"s":"e","x":612,"r":0.056},{"s":"e","x":658,"r":0.073},{"s":"e","x":705,"r":0.054},{"s":"e","x":767,"r":0.073},{"s":"e","x":828,"r":0.05},{"s":"e","x":874,"r":0.066},{"s":"e","x":906,"r":0.048},{"s":"e","x":938,"r":0.071},{"s":"e","x":970,"r":0.055},{"s":"e","x":1024,"r":0.05},{"s":"e","x":1085,"r":0.062},{"s":"e","x":1139,"r":0.047},{"s":"e","x":1232,"r":0.065},{"s":"e","x":1325,"r":0.042},{"s":"e","x":1418,"r":0.06},{"s":"e","x":1534,"r":0.043},{"s":"e","x":1650,"r":0.06},{"s":"e","x":1750,"r":0.04},{"s":"e","x":1850,"r":0.058},{"s":"e","x":1957,"r":0.038},{"s":"e","x":2041,"r":0.058},{"s":"e","x":2104,"r":0.037},{"s":"e","x":2150,"r":0.063},{"s":"e","x":2188,"r":0.048},{"s":"e","x":2258,"r":0.057},{"s":"e","x":2358,"r":0.035},{"s":"e","x":2480,"r":0.059},{"s":"e","x":2574,"r":0.04},{"s":"e","x":2651,"r":0.053},{"s":"e","x":2759,"r":0.033},{"s":"e","x":2882,"r":0.053},{"s":"e","x":3022,"r":0.032},{"s":"e","x":3168,"r":0.049}
]
},
"vconcat": [
{
  "title": {"text": "Training_Criterion_Loss"},
  "width": 862, "height": 405,
  "data": {"name": "train"},
  "layer": [
    {"data": {"values": [{}]}, "mark": {"type": "rule", "color": "#999999", "strokeWidth": 1.5},
     "encoding": {"y": {"datum": 0, "type": "quantitative", "scale": {"domain": [-0.02, 0.2], "nice": false, "zero": false},
       "axis": {"grid": true, "labelOverlap": false, "tickCount": 12, "values": [0, 0.02, 0.04, 0.06, 0.08, 0.1, 0.12, 0.14, 0.16, 0.18], "labelExpr": "datum.value == 0 ? '0.00' : format(datum.value, '.3r')"}}}},
    {"data": {"values": [{}]}, "mark": {"type": "rule", "color": "#999999", "strokeWidth": 1.5},
     "encoding": {"x": {"datum": 0, "type": "quantitative", "scale": {"domain": [-2000, 16000], "nice": false, "zero": false},
       "axis": {"grid": true, "labelOverlap": false, "values": [0, 2000, 4000, 6000, 8000, 10000, 12000, 14000], "labelExpr": "format(datum.value, '.4s')"}}}},
    {"mark": {"type": "line", "strokeWidth": 1.2, "opacity": 0.28, "clip": true},
     "encoding": {
       "x": {"field": "x", "type": "quantitative"},
       "y": {"field": "r", "type": "quantitative"},
       "color": {"field": "s", "type": "nominal", "legend": null, "scale": {"domain": ["g", "f", "e", "d", "c", "b", "a"], "range": ["#ff5a27", "#bdbdbd", "#0fb0ec", "#0fb0ec", "#dc0000", "#ff5a27", "#ff0f6e"]}},
       "order": {"field": "x", "type": "quantitative"}}},
    {"transform": [{"filter": "isValid(datum.y)"}],
     "mark": {"type": "line", "strokeWidth": 1.8, "clip": true},
     "encoding": {
       "x": {"field": "x", "type": "quantitative"},
       "y": {"field": "y", "type": "quantitative"},
       "color": {"field": "s", "type": "nominal", "legend": null},
       "order": {"field": "x", "type": "quantitative"}}},
    {"transform": [{"filter": "isValid(datum.y)"}, {"joinaggregate": [{"op": "max", "field": "x", "as": "mx"}], "groupby": ["s"]}, {"filter": "datum.x === datum.mx"}],
     "mark": {"type": "circle", "size": 60, "opacity": 1},
     "encoding": {
       "x": {"field": "x", "type": "quantitative"},
       "y": {"field": "y", "type": "quantitative"},
       "color": {"field": "s", "type": "nominal", "legend": null}}}
  ]
},
{
  "title": {"text": "Validation_Criterion_Loss"},
  "width": 862, "height": 405,
  "data": {"name": "valid"},
  "layer": [
    {"data": {"values": [{}]}, "mark": {"type": "rule", "color": "#999999", "strokeWidth": 1.5},
     "encoding": {"y": {"datum": 0, "type": "quantitative", "scale": {"domain": [-0.02, 0.18], "nice": false, "zero": false},
       "axis": {"grid": true, "labelOverlap": false, "values": [0, 0.02, 0.04, 0.06, 0.08, 0.1, 0.12, 0.14, 0.16], "labelExpr": "datum.value == 0 ? '0.00' : format(datum.value, '.3r')"}}}},
    {"data": {"values": [{}]}, "mark": {"type": "rule", "color": "#999999", "strokeWidth": 1.5},
     "encoding": {"x": {"datum": 0, "type": "quantitative", "scale": {"domain": [-500, 3500], "nice": false, "zero": false},
       "axis": {"grid": true, "labelOverlap": false, "values": [0, 500, 1000, 1500, 2000, 2500, 3000], "labelExpr": "format(datum.value, '.4s')"}}}},
    {"mark": {"type": "line", "strokeWidth": 1.2, "opacity": 0.28, "clip": true},
     "encoding": {
       "x": {"field": "x", "type": "quantitative"},
       "y": {"field": "r", "type": "quantitative"},
       "color": {"field": "s", "type": "nominal", "legend": null, "scale": {"domain": ["g", "f", "e", "d", "c", "b", "a"], "range": ["#ff5a27", "#bdbdbd", "#0fb0ec", "#0fb0ec", "#dc0000", "#ff5a27", "#ff0f6e"]}},
       "order": {"field": "x", "type": "quantitative"}}},
    {"transform": [{"filter": "isValid(datum.y)"}],
     "mark": {"type": "line", "strokeWidth": 1.8, "clip": true},
     "encoding": {
       "x": {"field": "x", "type": "quantitative"},
       "y": {"field": "y", "type": "quantitative"},
       "color": {"field": "s", "type": "nominal", "legend": null},
       "order": {"field": "x", "type": "quantitative"}}},
    {"transform": [{"filter": "isValid(datum.y)"}, {"joinaggregate": [{"op": "max", "field": "x", "as": "mx"}], "groupby": ["s"]}, {"filter": "datum.x === datum.mx"}],
     "mark": {"type": "circle", "size": 60, "opacity": 1},
     "encoding": {
       "x": {"field": "x", "type": "quantitative"},
       "y": {"field": "y", "type": "quantitative"},
       "color": {"field": "s", "type": "nominal", "legend": null}}}
  ]
}
]
}
